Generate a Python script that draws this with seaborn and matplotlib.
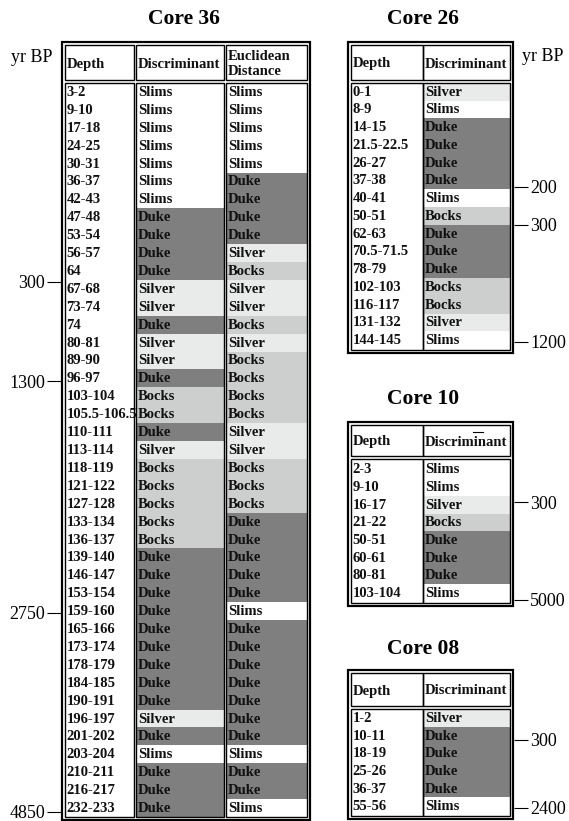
import numpy as np
import matplotlib
matplotlib.use("Agg")
import matplotlib.pyplot as plt
from matplotlib.colors import ListedColormap
from matplotlib.patches import Rectangle
from matplotlib.transforms import offset_copy
import seaborn as sns

# ---------------- data ----------------
classes = ["Slims", "Silver", "Bocks", "Duke"]
class_colors = ["#ffffff", "#e9eaea", "#cdcfcf", "#7f7f7f"]

core36_depth = ["3-2", "9-10", "17-18", "24-25", "30-31", "36-37", "42-43", "47-48",
                "53-54", "56-57", "64", "67-68", "73-74", "74", "80-81", "89-90",
                "96-97", "103-104", "105.5-106.5", "110-111", "113-114", "118-119",
                "121-122", "127-128", "133-134", "136-137", "139-140", "146-147",
                "153-154", "159-160", "165-166", "173-174", "178-179", "184-185",
                "190-191", "196-197", "201-202", "203-204", "210-211", "216-217",
                "232-233"]
core36_discriminant = ["Slims", "Slims", "Slims", "Slims", "Slims", "Slims", "Slims",
                       "Duke", "Duke", "Duke", "Duke", "Silver", "Silver", "Duke",
                       "Silver", "Silver", "Duke", "Bocks", "Bocks", "Duke", "Silver",
                       "Bocks", "Bocks", "Bocks", "Bocks", "Bocks", "Duke", "Duke",
                       "Duke", "Duke", "Duke", "Duke", "Duke", "Duke", "Duke",
                       "Silver", "Duke", "Slims", "Duke", "Duke", "Duke"]
core36_euclidean = ["Slims", "Slims", "Slims", "Slims", "Slims", "Duke", "Duke",
                    "Duke", "Duke", "Silver", "Bocks", "Silver", "Silver", "Bocks",
                    "Silver", "Bocks", "Bocks", "Bocks", "Bocks", "Silver", "Silver",
                    "Bocks", "Bocks", "Bocks", "Duke", "Duke", "Duke", "Duke", "Duke",
                    "Slims", "Duke", "Duke", "Duke", "Duke", "Duke", "Duke", "Duke",
                    "Slims", "Duke", "Duke", "Slims"]
core36_age_labels = ["300", "1300", "2750", "4850"]
core36_age_rows = [11.1, 16.65, 29.6, 40.7]

core26_depth = ["0-1", "8-9", "14-15", "21.5-22.5", "26-27", "37-38", "40-41", "50-51",
                "62-63", "70.5-71.5", "78-79", "102-103", "116-117", "131-132", "144-145"]
core26_discriminant = ["Silver", "Slims", "Duke", "Duke", "Duke", "Duke", "Slims", "Bocks",
                       "Duke", "Duke", "Duke", "Bocks", "Bocks", "Silver", "Slims"]
core26_age_labels = ["200", "300", "1200"]
core26_age_rows = [5.86, 8.0, 14.6]

core10_depth = ["2-3", "9-10", "16-17", "21-22", "50-51", "60-61", "80-81", "103-104"]
core10_discriminant = ["Slims", "Slims", "Silver", "Bocks", "Duke", "Duke", "Duke", "Slims"]
core10_age_labels = ["300", "5000"]
core10_age_rows = [2.35, 7.86]

core08_depth = ["1-2", "10-11", "18-19", "25-26", "36-37", "55-56"]
core08_discriminant = ["Silver", "Duke", "Duke", "Duke", "Duke", "Slims"]
core08_age_labels = ["300", "2400"]
core08_age_rows = [1.75, 5.6]

# ---------------- style ----------------
plt.rcParams["font.family"] = ["Liberation Serif", "DejaVu Serif"]
W, H = 569, 821
PX = 72 / 100.0  # points per pixel
cmap = ListedColormap(class_colors)
CELL_FS = 10.5

fig = plt.figure(figsize=(W / 100, H / 100), dpi=100)
fig.patch.set_facecolor("white")


def rect(x0, y0, x1, y1):
    return [x0 / W, 1 - y1 / H, (x1 - x0) / W, (y1 - y0) / H]


overlay = fig.add_axes([0, 0, 1, 1], zorder=10)
overlay.set_xlim(0, W)
overlay.set_ylim(H, 0)
overlay.axis("off")
overlay.patch.set_alpha(0)


def draw_table(title, title_x, title_y, outer, seps, y_mid, rows, headers,
               depth, class_cols, age_labels, age_rows, age_side, col_gap):
    x0, y0, x1, y1 = outer
    xs = [x0] + seps + [x1]
    ncol = len(xs) - 1
    n = len(depth)
    r0, r1 = rows

    def cell_x(i):
        l = x0 + 3 if i == 0 else xs[i] + col_gap / 2
        r = x1 - 3 if i == ncol - 1 else xs[i + 1] - col_gap / 2
        return l, r

    for i in range(ncol):
        l, r = cell_x(i)
        ax = fig.add_axes(rect(l, r0, r, r1), zorder=2)
        if i == 0:
            ax.set_xlim(0, 1)
            ax.set_ylim(n, 0)
            ax.axis("off")
            labels = depth
        else:
            labels = class_cols[i - 1]
            codes = np.array([[classes.index(v)] for v in labels])
            sns.heatmap(codes, ax=ax, cmap=cmap, vmin=-0.5, vmax=len(classes) - 0.5,
                        cbar=False, xticklabels=False, yticklabels=False, linewidths=0)
            ax.set_xlim(0, 1)
        tr = offset_copy(ax.transData, fig=fig, x=1.5, y=-0.5, units="dots")
        for k, lab in enumerate(labels):
            ax.text(0, k + 0.5, lab, transform=tr, ha="left", va="center",
                    fontsize=CELL_FS, fontweight="bold", color="#111111", clip_on=False)

        # cell borders
        overlay.add_patch(Rectangle((l, y0 + 3), r - l, (y_mid - 1.5) - (y0 + 3),
                                    fill=False, lw=1.4 * PX, ec="black"))
        overlay.add_patch(Rectangle((l, y_mid + 1.5), r - l, (y1 - 3) - (y_mid + 1.5),
                                    fill=False, lw=1.4 * PX, ec="black"))
        overlay.text(l + 1.5, (y0 + 3 + y_mid - 1.5) / 2 + 1.5, headers[i], ha="left",
                     va="center", fontsize=CELL_FS, fontweight="bold",
                     linespacing=1.15, color="#111111")

    overlay.add_patch(Rectangle((x0, y0), x1 - x0, y1 - y0, fill=False,
                                lw=2.2 * PX, ec="black"))
    overlay.text(title_x, title_y, title, ha="center", va="center",
                 fontsize=15.5, fontweight="bold")

    # age ticks
    tax = fig.add_axes(rect(x0 - 1, r0, x1 + 1, r1), zorder=11)
    tax.patch.set_alpha(0)
    tax.set_ylim(n, 0)
    tax.set_xticks([])
    for s in tax.spines.values():
        s.set_visible(False)
    tax.set_yticks(age_rows)
    tax.set_yticklabels(age_labels, fontsize=13)
    if age_side == "left":
        tax.yaxis.tick_left()
    else:
        tax.yaxis.tick_right()
    tax.tick_params(axis="y", length=14 * PX, width=1.1 * PX, pad=2 * PX,
                    direction="out", color="black")


draw_table("Core 36", 184, 19.5, (62, 42, 310, 820), [135, 225], 82, (83, 817),
           ["Depth", "Discriminant", "Euclidean\nDistance"],
           core36_depth, [core36_discriminant, core36_euclidean],
           core36_age_labels, core36_age_rows, "left", 2.8)

draw_table("Core 26", 423, 19.5, (348, 42, 513, 353), [423], 81.5, (82.8, 349),
           ["Depth", "Discriminant"], core26_depth, [core26_discriminant],
           core26_age_labels, core26_age_rows, "right", 0.4)

draw_table("Core 10", 423, 399.5, (348, 422, 513, 606), [423], 457.5, (460.5, 602),
           ["Depth", "Discriminant"], core10_depth, [core10_discriminant],
           core10_age_labels, core10_age_rows, "right", 0.4)

draw_table("Core 08", 423, 648.5, (348, 670, 513, 819), [423], 707.5, (709, 815),
           ["Depth", "Discriminant"], core08_depth, [core08_discriminant],
           core08_age_labels, core08_age_rows, "right", 0.4)

# small overline mark in the Core 10 header
overlay.plot([473, 483], [432, 432], color="black", lw=1.1 * PX)

overlay.text(32, 57.5, "yr BP", ha="center", va="center", fontsize=13)
overlay.text(543, 56.5, "yr BP", ha="center", va="center", fontsize=13)

fig.savefig("out.png", dpi=100, facecolor="white")
